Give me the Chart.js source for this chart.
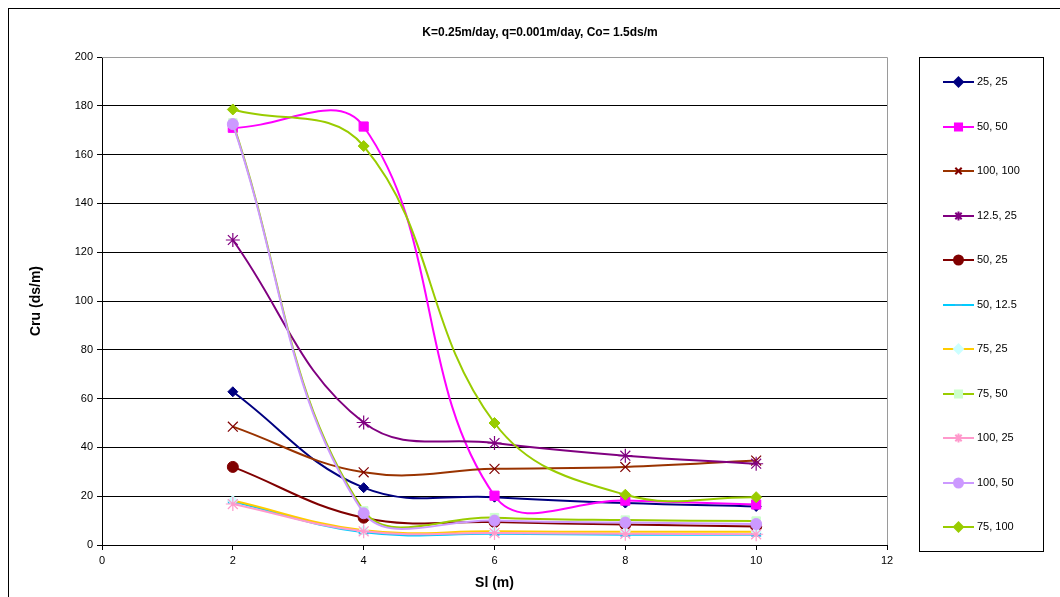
<!DOCTYPE html>
<html>
<head>
<meta charset="utf-8">
<script src="https://cdn.jsdelivr.net/npm/chart.js@4.4.0/dist/chart.umd.min.js"></script>
<style>
html,body{margin:0;padding:0;background:#fff;}
#wrap{position:relative;width:1060px;height:597px;overflow:hidden;}
#frame{position:absolute;left:8px;top:8px;width:1100px;height:700px;border:1px solid #000;}
#chart{position:absolute;left:0;top:0;}
</style>
</head>
<body>
<div id="wrap">
<div id="frame"></div>
<canvas id="chart" width="1060" height="597"></canvas>
</div>
<script>
// Sl (m)
let slValues = [2, 4, 6, 8, 10];

let s25_25   = [62.8, 23.5, 19.6, 17.2, 15.8];
let s50_50   = [171, 171.5, 20.2, 18.2, 16.6];
let s100_100 = [48.5, 29.8, 31.2, 32, 34.6];
let s12_25   = [125, 50.2, 41.8, 36.6, 33.3];
let s50_25   = [32, 11.2, 9.4, 8.4, 7.6];
let s50_12   = [17.8, 5.2, 4.6, 4.2, 4.2];
let s75_25   = [18.2, 6, 5.6, 5.4, 5.4];
let s75_50   = [173, 14, 11.2, 10.2, 9.8];
let s100_25  = [16.8, 5.6, 4.9, 4.6, 4.4];
let s100_50  = [172.5, 13, 10, 9.2, 8.6];
let s75_100  = [178.5, 163.5, 50, 20.6, 19.6];

let yTicks = [0, 20, 40, 60, 80, 100, 120, 140, 160, 180, 200];
let xTicks = [0, 2, 4, 6, 8, 10, 12];

let seriesList = [
    {name:"25, 25",   data:s25_25,   line:"#000080", mark:"#000080", style:"rectRot", r:5},
    {name:"50, 50",   data:s50_50,   line:"#FF00FF", mark:"#FF00FF", style:"rect",    r:6.5},
    {name:"100, 100", data:s100_100, line:"#993300", mark:"#800000", style:"crossRot", r:7},
    {name:"12.5, 25", data:s12_25,   line:"#800080", mark:"#800080", style:"star",    r:7},
    {name:"50, 25",   data:s50_25,   line:"#800000", mark:"#800000", style:"circle",  r:5.5},
    {name:"50, 12.5", data:s50_12,   line:"#00CCFF", mark:"#00CCFF", style:"line",    r:5},
    {name:"75, 25",   data:s75_25,   line:"#FFCC00", mark:"#CCFFFF", style:"rectRot", r:5},
    {name:"75, 50",   data:s75_50,   line:"#99CC00", mark:"#CCFFCC", style:"rect",    r:6},
    {name:"100, 25",  data:s100_25,  line:"#FF99CC", mark:"#FF99CC", style:"star",    r:7},
    {name:"100, 50",  data:s100_50,  line:"#CC99FF", mark:"#CC99FF", style:"circle",  r:5.5},
    {name:"75, 100",  data:s75_100,  line:"#99CC00", mark:"#99CC00", style:"rectRot", r:5.5}
];

let FONT = "'Liberation Sans', Arial, sans-serif";

function markWidth(style){
    if(style=="star" || style=="crossRot") return 1.2;
    if(style=="line") return 4;
    return 1;
}

let datasets = seriesList.map((s, i) => ({
    label: s.name,
    data: s.data.map((v, k) => ({x: slValues[k], y: v})),
    borderColor: s.line,
    borderWidth: 2,
    tension: 0.4,
    fill: false,
    pointStyle: s.style,
    pointRadius: s.r,
    pointBackgroundColor: s.mark,
    pointBorderColor: s.style=="line" ? "#33BBEE" : s.mark,
    pointBorderWidth: markWidth(s.style),
    order: 20 - i
}));

// frame of plot area, title and legend box
let decor = {
    id: "decor",
    afterDraw(chart){
        let ctx = chart.ctx;
        let a = chart.chartArea;
        ctx.save();
        ctx.strokeStyle = "#9a9a9a";
        ctx.lineWidth = 1;
        ctx.beginPath();
        ctx.moveTo(a.left, a.top + 0.5);
        ctx.lineTo(Math.round(a.right) + 0.5, a.top + 0.5);
        ctx.lineTo(Math.round(a.right) + 0.5, a.bottom);
        ctx.stroke();

        ctx.fillStyle = "#000";
        ctx.font = "bold 12px " + FONT;
        ctx.textAlign = "center";
        ctx.textBaseline = "middle";
        ctx.fillText("K=0.25m/day, q=0.001m/day, Co= 1.5ds/m", 540, 33);

        // legend
        ctx.strokeStyle = "#000";
        ctx.strokeRect(919.5, 57.5, 124, 494);
        ctx.font = "11px " + FONT;
        ctx.textAlign = "left";
        seriesList.forEach((s, i) => {
            let y = Math.round(82 + i * 44.5);
            ctx.strokeStyle = s.line;
            ctx.lineWidth = 2;
            ctx.beginPath();
            ctx.moveTo(943, y);
            ctx.lineTo(974, y);
            ctx.stroke();
            ctx.fillStyle = s.mark;
            ctx.strokeStyle = s.style=="line" ? "#33BBEE" : s.mark;
            Chart.helpers.drawPoint(ctx, {
                pointStyle: s.style,
                radius: s.style == "rect" ? 5 : (s.style == "line" ? 3.5 : 4.5),
                rotation: 0,
                borderWidth: markWidth(s.style)
            }, 958.5, y);
            ctx.fillStyle = "#000";
            ctx.fillText(s.name, 977, y);
        });
        ctx.restore();
    }
};

new Chart(document.getElementById("chart"), {
    type: "line",
    data: {datasets: datasets},
    plugins: [decor],
    options: {
        responsive: false,
        animation: false,
        layout: {padding: {left: 28, right: 173, top: 57, bottom: 5}},
        plugins: {
            legend: {display: false},
            title: {display: false},
            tooltip: {enabled: false}
        },
        scales: {
            x: {
                type: "linear",
                min: xTicks[0],
                max: xTicks[xTicks.length - 1],
                afterBuildTicks: scale => { scale.ticks = xTicks.map(v => ({value: v})); },
                grid: {drawOnChartArea: false, drawTicks: true, tickLength: 5, color: "#000"},
                border: {color: "#000", width: 1},
                ticks: {color: "#000", font: {family: FONT, size: 11}, padding: 4, maxRotation: 0},
                title: {display: true, text: "Sl (m)", color: "#000", font: {family: FONT, size: 14, weight: "bold"}, padding: {top: 4, bottom: 0}}
            },
            y: {
                min: yTicks[0],
                max: yTicks[yTicks.length - 1],
                afterBuildTicks: scale => { scale.ticks = yTicks.map(v => ({value: v})); },
                afterFit: scale => { scale.width = 74; },
                grid: {
                    color: c => c.tick && c.tick.value == 200 ? "#9a9a9a" : "#000",
                    lineWidth: 1,
                    tickLength: 5,
                    tickColor: "#000"
                },
                border: {color: "#000", width: 1},
                ticks: {color: "#000", font: {family: FONT, size: 11}, padding: 4},
                title: {display: true, text: "Cru (ds/m)", color: "#000", font: {family: FONT, size: 14, weight: "bold"}, padding: {top: 0, bottom: 0}}
            }
        }
    }
});
</script>
</body>
</html>
